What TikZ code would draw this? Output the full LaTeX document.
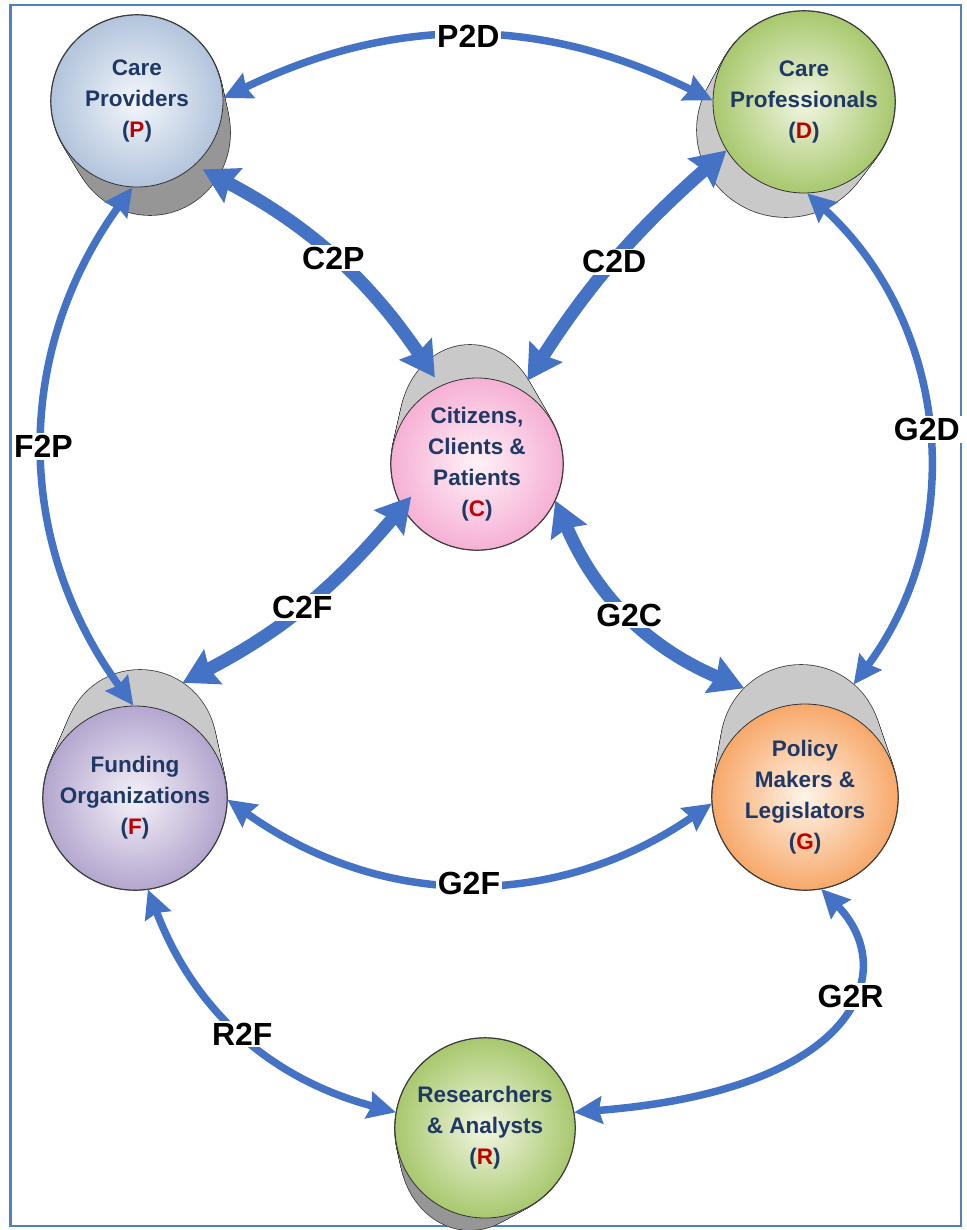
\documentclass[tikz,border=0pt]{standalone}
\usepackage{fontspec}
\setmainfont{Liberation Sans}
\usetikzlibrary{arrows.meta,shapes.geometric}

\definecolor{flow}{RGB}{68,114,196}
\definecolor{rim}{RGB}{79,129,189}
\definecolor{ink}{RGB}{31,56,100}
\definecolor{code}{RGB}{192,0,0}
\definecolor{sidedark}{RGB}{150,150,150}
\definecolor{sidelight}{RGB}{201,201,201}
\definecolor{blueedge}{RGB}{178,196,220}
\definecolor{bluecore}{RGB}{244,247,251}
\definecolor{greenedge}{RGB}{168,200,110}
\definecolor{greencore}{RGB}{242,246,226}
\definecolor{pinkedge}{RGB}{246,176,212}
\definecolor{pinkcore}{RGB}{255,242,248}
\definecolor{lilacedge}{RGB}{180,166,206}
\definecolor{lilaccore}{RGB}{245,242,249}
\definecolor{orangeedge}{RGB}{247,168,106}
\definecolor{orangecore}{RGB}{255,244,232}

% Side of a tilted drum: a sweep of ellipses from the back face to the front face.
% #1 name of the back face, (#2,#3) front centre, #4 front radius,
% (#5,#6) back centre, #7/#8 back radii, #9 side colour
\newcommand\drumbody[9]{%
  \foreach \i in {0,...,20}{%
    \draw[line width=1.6pt, black!75]
      ({#5+\i/20*(#2-#5)},{#6+\i/20*(#3-#6)})
      ellipse [x radius={#7+\i/20*(#4-#7)}, y radius={#8+\i/20*(#4-#8)}];}
  \node[ellipse, fill=#9, inner sep=0pt, minimum width=#7*2pt,
        minimum height=#8*2pt] (#1) at (#5,#6) {};
  \foreach \i in {1,...,20}{%
    \fill[#9]
      ({#5+\i/20*(#2-#5)},{#6+\i/20*(#3-#6)})
      ellipse [x radius={#7+\i/20*(#4-#7)}, y radius={#8+\i/20*(#4-#8)}];}
}

\tikzset{
  face/.style={circle, draw=black!80, line width=0.8pt, inner sep=0pt,
    align=center, text=ink, font=\fontsize{22.5}{31}\selectfont\bfseries},
  thinlink/.style={color=flow, line width=7.5pt,
    {Stealth[length=28pt,width=27pt,inset=3pt]}-{Stealth[length=28pt,width=27pt,inset=3pt]}},
  thicklink/.style={color=flow, line width=13pt,
    {Stealth[length=34pt,width=38pt,inset=4pt]}-{Stealth[length=34pt,width=38pt,inset=4pt]}},
  flowlabel/.style={fill=white, inner sep=2pt, text=black,
    font=\fontsize{32}{32}\selectfont\bfseries},
}

\begin{document}
\begin{tikzpicture}[x=1pt,y=-1pt]
\useasboundingbox (0,0) rectangle (966,1230);
\fill[white] (0,0) rectangle (966,1230);
\draw[rim, line width=2.5pt] (10.5,5) rectangle (961,1226);

% drum sides
\drumbody{Pb}{137}{101}{86}{150}{133}{80}{82}{sidedark}
\drumbody{Db}{804}{102}{91}{786}{130}{89}{87}{sidelight}
\drumbody{Cb}{477}{464}{86}{470}{425}{70}{80}{sidelight}
\drumbody{Fb}{135}{798}{92}{140}{746}{76}{76}{sidelight}
\drumbody{Gb}{805}{797}{93}{801}{745}{80}{80}{sidelight}
\drumbody{Rb}{485}{1128}{90}{470}{1150}{70}{80}{sidedark}

% drum faces
\node[face, inner color=bluecore, outer color=blueedge, minimum size=172pt]
  (P) at (137,101) {Care\\Providers\\(\textcolor{code}{P})};
\node[face, inner color=greencore, outer color=greenedge, minimum size=182pt]
  (D) at (804,102) {Care\\Professionals\\(\textcolor{code}{D})};
\node[face, inner color=pinkcore, outer color=pinkedge, minimum size=172pt]
  (C) at (477,464) {Citizens,\\Clients \&\\Patients\\(\textcolor{code}{C})};
\node[face, inner color=lilaccore, outer color=lilacedge, minimum size=184pt]
  (F) at (135,798) {Funding\\Organizations\\(\textcolor{code}{F})};
\node[face, inner color=orangecore, outer color=orangeedge, minimum size=186pt]
  (G) at (805,797) {Policy\\Makers \&\\Legislators\\(\textcolor{code}{G})};
\node[face, inner color=greencore, outer color=greenedge, minimum size=180pt]
  (R) at (485,1128) {Researchers\\\& Analysts\\(\textcolor{code}{R})};

% exchanges between the parties
\draw[thinlink] (P.2) to[bend left=26] node[flowlabel]{P2D} (D.179);
\draw[thicklink, shorten <=9pt, shorten >=10pt]
  (P.-48) to[bend left=14] node[flowlabel]{C2P} (C.115);
\draw[thicklink, shorten <=11pt]
  (C.59) to[bend left=8] node[flowlabel]{C2D} (D.-148);
\draw[thicklink, shorten <=-14pt]
  (C.210) to[bend left=11] node[flowlabel]{C2F} (Fb.56);
\draw[thicklink] (C.-25) to[bend right=22] node[flowlabel]{G2C} (Gb.135);
\draw[thinlink] (D.-88) to[bend left=42] node[flowlabel]{G2D} (Gb.49);
\draw[thinlink] (F.91) to[bend left=36] node[flowlabel]{F2P} (P.-93);
\draw[thinlink] (F.-1) to[bend right=35] node[flowlabel]{G2F} (G.184);
\draw[thinlink] (F.-82) to[bend right=27] node[flowlabel]{R2F} (R.170);
\draw[thinlink] (G.-80) .. controls (900,970) and (860,1090) ..
  node[flowlabel, pos=0.4]{G2R} (R.10);
\end{tikzpicture}
\end{document}
